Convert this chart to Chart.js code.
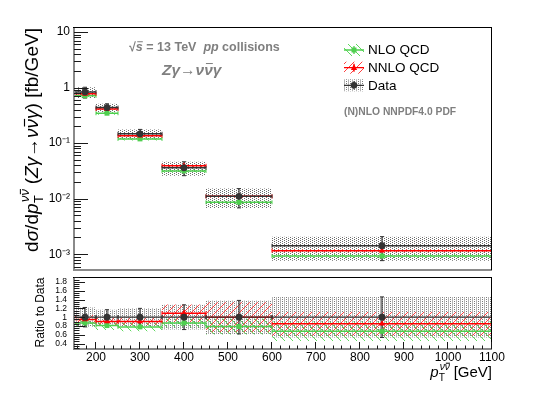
<!DOCTYPE html>
<html><head><meta charset="utf-8">
<script src="https://cdn.jsdelivr.net/npm/chart.js@4.4.1/dist/chart.umd.min.js"></script>
<style>
html,body{margin:0;padding:0;background:#fff;}
#wrap{position:relative;width:545px;height:393px;overflow:hidden;}
#c1{position:absolute;left:0;top:0;}
#c2{position:absolute;left:0;top:272px;}
</style></head><body>
<div id="wrap"><canvas id="c1" width="545" height="275"></canvas><canvas id="c2" width="545" height="121"></canvas></div>
<script>
// ---------------- data ----------------
const binEdges   = [150, 200, 250, 350, 450, 600, 1100];
const binCenters = [175, 225, 300, 400, 525, 850];
const dataXsec   = [0.83, 0.436, 0.147, 0.036, 0.0110, 0.00142];
const dataRelUnc = [0.22, 0.17, 0.20, 0.28, 0.38, 0.46];
const nloXsec    = [0.71, 0.345, 0.119, 0.0316, 0.0086, 0.00093];
const nnloXsec   = [0.77, 0.41, 0.136, 0.039, 0.0110, 0.00116];
const nloRelUnc  = [0.06, 0.06, 0.06, 0.07, 0.08, 0.08];
const nnloRelUnc = [0.04, 0.04, 0.04, 0.05, 0.06, 0.06];
const dataRatio  = [1, 1, 1, 1, 1, 1];
const nloRatio   = [0.87, 0.81, 0.78, 0.87, 0.79, 0.68];
const nnloRatio  = [0.95, 0.905, 0.905, 1.09, 1.00, 0.85];
const nloRatioBand  = [0.10, 0.10, 0.10, 0.10, 0.18, 0.22];
const nnloRatioBand = [0.10, 0.08, 0.08, 0.20, 0.34, 0.27];
const logTickValues  = [0.001, 0.01, 0.1, 1, 10];
const logTickLabels  = ['10\u207B\u00B3', '10\u207B\u00B2', '10\u207B\u00B9', '1', '10'];
const ratioTickValues = [0.4, 0.6, 0.8, 1.0, 1.2, 1.4, 1.6, 1.8];
const ratioTickLabels = ['0.4', '0.6', '0.8', '1', '1.2', '1.4', '1.6', '1.8'];
const xTickValues = [200, 300, 400, 500, 600, 700, 800, 900, 1000, 1100];
const xTickLabels = ['200', '300', '400', '500', '600', '700', '800', '900', '1000', '1100'];

// ---------------- styles ----------------
const FONT = '"Liberation Sans", Arial, Helvetica, sans-serif';
const C_DATA = '#333333', C_NLO = '#4fcf4f', C_NNLO = '#ff0000', C_GRAY = '#7f7f7f';
function mkPat(w, h, fn) { const c = document.createElement('canvas'); c.width = w; c.height = h; const g = c.getContext('2d'); fn(g); return g.createPattern(c, 'repeat'); }
const P_DOTS = mkPat(4, 2, g => { g.fillStyle = '#6a6a6a'; g.fillRect(0, 0, 1, 1); g.fillRect(2, 1, 1, 1); });
const P_VL = mkPat(4, 4, g => { g.fillStyle = '#b4b4b4'; g.fillRect(0, 0, 1, 4); g.fillStyle = '#7a7a7a'; g.fillRect(2, 1, 1, 1); g.fillRect(2, 3, 1, 1); });
const P_RED = mkPat(8, 8, g => { g.fillStyle = '#ff4040'; for (let i = 0; i < 8; i++) g.fillRect(i, 7 - i, 1, 1); });
const P_GREEN = mkPat(8, 8, g => { g.fillStyle = '#5fd85f'; for (let i = 0; i < 8; i++) g.fillRect(i, i, 1, 1); });

// ---------------- dataset helpers ----------------
function stepPts(vals) { const p = vals.map((v, i) => ({ x: binEdges[i], y: v })); p.push({ x: binEdges[binEdges.length - 1], y: vals[vals.length - 1] }); return p; }
function addBand(arr, upper, lower, bg, order) {
  arr.push({ data: stepPts(upper), stepped: true, fill: '+1', backgroundColor: bg, borderColor: 'rgba(0,0,0,0)', borderWidth: 0, pointRadius: 0, order });
  arr.push({ data: stepPts(lower), stepped: true, fill: false, borderColor: 'rgba(0,0,0,0)', borderWidth: 0, pointRadius: 0, order });
}
function addSegs(arr, vals, color, width, order) {
  const p = [];
  vals.forEach((v, i) => { p.push({ x: binEdges[i], y: v }, { x: binEdges[i + 1], y: v }, { x: binEdges[i + 1], y: null }); });
  arr.push({ data: p, borderColor: color, borderWidth: width, spanGaps: false, fill: false, pointStyle: 'line', rotation: 90, pointRadius: 2, pointBorderColor: color, pointBorderWidth: 1, order });
}
function addVErr(arr, lo, hi, color, order) {
  const p = [];
  binCenters.forEach((c, i) => { p.push({ x: c, y: lo[i] }, { x: c, y: hi[i] }, { x: c, y: null }); });
  arr.push({ data: p, borderColor: color, borderWidth: 1.2, spanGaps: false, fill: false, pointStyle: 'line', rotation: 0, pointRadius: 2, pointBorderColor: color, pointBorderWidth: 1, order });
}
function addMarkers(arr, vals, style, radius, color, order) {
  arr.push({ data: vals.map((v, i) => ({ x: binCenters[i], y: v })), showLine: false, pointStyle: style, pointRadius: radius, pointBackgroundColor: color, pointBorderColor: color, pointBorderWidth: 0, order });
}

// ---------------- rich text helpers ----------------
function fontStr(p, size) { return (p.it ? 'italic ' : '') + (p.b ? 'bold ' : '') + size + 'px ' + FONT; }
function measureParts(ctx, parts, size) { let w = 0; for (const p of parts) w += measurePart(ctx, p, size); return w; }
function measurePart(ctx, p, size) {
  if (p.sub || p.sup) { const s = size * 0.68; return Math.max(p.sub ? measureParts(ctx, p.sub, s) : 0, p.sup ? measureParts(ctx, p.sup, s) : 0) + size * 0.05; }
  ctx.font = fontStr(p, size); return ctx.measureText(p.t).width;
}
function drawParts(ctx, parts, x, y, size) {
  for (const p of parts) {
    if (p.sub || p.sup) {
      const s = size * 0.68;
      if (p.sub) drawParts(ctx, p.sub, x + size * 0.02, y + size * 0.27, s);
      if (p.sup) drawParts(ctx, p.sup, x + size * 0.08, y - size * 0.45, s);
      x += measurePart(ctx, p, size); continue;
    }
    ctx.font = fontStr(p, size);
    const w = ctx.measureText(p.t).width;
    ctx.fillText(p.t, x, y);
    if (p.over) ctx.fillRect(x + w * 0.2, y - size * 0.74, w * 0.8, Math.max(1, size * 0.06));
    x += w;
  }
  return x;
}
const NUNU = [{ t: '\u03BD', it: true }, { t: '\u03BD', it: true, over: true }];

// ---------------- decoration plugins ----------------
function drawFrame(ctx, a) {
  ctx.fillStyle = '#8a8a8a';
  ctx.fillRect(a.left - 1, a.top, 2, a.bottom - a.top + 1);
  ctx.fillRect(a.left - 1, a.bottom - 1, a.right - a.left + 1, 2);
  ctx.fillStyle = '#000';
  ctx.fillRect(a.left - 1, a.top, a.right - a.left + 1, 1);
  ctx.fillRect(a.right - 1, a.top, 1, a.bottom - a.top);
}
function legendRow(ctx, yc, pat, color, marker, label) {
  const x0 = 344, x1 = 364, xm = 354;
  ctx.fillStyle = pat; ctx.fillRect(x0, yc - 6, x1 - x0, 12);
  ctx.strokeStyle = color; ctx.lineWidth = 1.3;
  ctx.beginPath(); ctx.moveTo(x0, yc); ctx.lineTo(x1, yc); ctx.moveTo(xm, yc - 4); ctx.lineTo(xm, yc + 4); ctx.stroke();
  ctx.fillStyle = color;
  ctx.beginPath();
  if (marker === 'rect') ctx.rect(xm - 2.5, yc - 2.5, 5, 5);
  else if (marker === 'tri') { ctx.moveTo(xm, yc - 3.5); ctx.lineTo(xm + 3.2, yc + 2.3); ctx.lineTo(xm - 3.2, yc + 2.3); ctx.closePath(); }
  else ctx.arc(xm, yc, 3.3, 0, Math.PI * 2);
  ctx.fill();
  ctx.fillStyle = '#000'; ctx.font = '13.5px ' + FONT; ctx.textBaseline = 'middle'; ctx.textAlign = 'left';
  ctx.fillText(label, 368, yc + 0.5);
}
const deco1 = {
  id: 'deco1',
  afterDraw(chart) {
    const ctx = chart.ctx, a = chart.chartArea, ys = chart.scales.y;
    ctx.save();
    drawFrame(ctx, a);
    ctx.strokeStyle = '#1a1a1a'; ctx.lineWidth = 1;
    for (let e = -4; e <= 1; e++) for (let m = 1; m <= 9; m++) {
      const v = m * Math.pow(10, e);
      if (v < ys.min || v > ys.max) continue;
      const py = Math.round(ys.getPixelForValue(v)) + 0.5;
      const len = m === 1 ? 14 : 7;
      ctx.beginPath(); ctx.moveTo(a.left, py); ctx.lineTo(a.left + len, py); ctx.stroke();
    }
    const tparts = [{ t: 'd' }, { t: '\u03C3', it: true }, { t: '/d' }, { t: 'p', it: true },
      { sub: [{ t: 'T' }], sup: NUNU },
      { t: ' (' }, { t: 'Z\u03B3', it: true }, { t: '\u2192' }, ...NUNU, { t: '\u03B3', it: true }, { t: ') [fb/GeV]' }];
    let sz = 18; const w0 = measureParts(ctx, tparts, sz); sz = sz * 224 / w0;
    const w = measureParts(ctx, tparts, sz);
    ctx.save(); ctx.translate(38, 140); ctx.rotate(-Math.PI / 2);
    ctx.fillStyle = '#000'; ctx.textBaseline = 'alphabetic'; ctx.textAlign = 'left';
    drawParts(ctx, tparts, -w / 2, 0, sz);
    ctx.restore();
    ctx.fillStyle = C_GRAY; ctx.textBaseline = 'alphabetic'; ctx.textAlign = 'left';
    drawParts(ctx, [{ t: '\u221A', b: true }, { t: 's', b: true, it: true, over: true }, { t: ' = 13 TeV  ', b: true }, { t: 'pp', b: true, it: true }, { t: ' collisions', b: true }], 129, 50.5, 12.5);
    drawParts(ctx, [{ t: 'Z\u03B3', b: true, it: true }, { t: '\u2192', b: true }, { t: '\u03BD', b: true, it: true }, { t: '\u03BD', b: true, it: true, over: true }, { t: '\u03B3', b: true, it: true }], 162, 74.5, 15.5);
    ctx.font = 'bold 10.3px ' + FONT; ctx.fillStyle = C_GRAY;
    ctx.fillText('(N)NLO NNPDF4.0 PDF', 344, 114.5);
    legendRow(ctx, 50, P_GREEN, C_NLO, 'rect', 'NLO QCD');
    legendRow(ctx, 67.7, P_RED, C_NNLO, 'tri', 'NNLO QCD');
    legendRow(ctx, 85.3, P_VL, C_DATA, 'circle', 'Data');
    ctx.restore();
  }
};
const deco2 = {
  id: 'deco2',
  afterDraw(chart) {
    const ctx = chart.ctx, a = chart.chartArea, ys = chart.scales.y, xs = chart.scales.x;
    ctx.save();
    drawFrame(ctx, a);
    ctx.strokeStyle = '#1a1a1a'; ctx.lineWidth = 1;
    for (let k = 6; k <= 38; k++) {
      const v = k * 0.05;
      if (v < ys.min || v > ys.max) continue;
      const py = Math.round(ys.getPixelForValue(v)) + 0.5;
      const len = (k % 4 === 0) ? 11 : 5.5;
      ctx.beginPath(); ctx.moveTo(a.left, py); ctx.lineTo(a.left + len, py); ctx.stroke();
    }
    for (let v = 160; v <= 1100; v += 20) {
      const px = Math.round(xs.getPixelForValue(v)) - 0.5;
      const len = (v % 100 === 0) ? 7 : 3.5;
      ctx.beginPath(); ctx.moveTo(px, a.bottom); ctx.lineTo(px, a.bottom - len); ctx.stroke();
    }
    ctx.save(); ctx.translate(44, 312.5 - 272); ctx.rotate(-Math.PI / 2);
    ctx.fillStyle = '#000'; ctx.font = '12px ' + FONT; ctx.textAlign = 'center'; ctx.textBaseline = 'alphabetic';
    ctx.fillText('Ratio to Data', 0, 0);
    ctx.restore();
    const xp = [{ t: 'p', it: true }, { sub: [{ t: 'T' }], sup: NUNU }, { t: ' [GeV]' }];
    const xw = measureParts(ctx, xp, 15);
    ctx.fillStyle = '#000'; ctx.textAlign = 'left'; ctx.textBaseline = 'alphabetic';
    drawParts(ctx, xp, 492 - xw, 377 - 272, 15);
    ctx.restore();
  }
};
function fixY(s) { s.width = 74; s.paddingTop = 0; s.paddingBottom = 0; }
function fixX(h) { return s => { s.height = h; s.paddingLeft = 0; s.paddingRight = 0; }; }

// ---------------- top panel ----------------
const ds1 = [];
addBand(ds1, dataXsec.map((v, i) => v * (1 + dataRelUnc[i])), dataXsec.map((v, i) => v * (1 - dataRelUnc[i])), P_DOTS, 30);
addBand(ds1, nloXsec.map((v, i) => v * (1 + nloRelUnc[i])), nloXsec.map((v, i) => v * (1 - nloRelUnc[i])), P_GREEN, 25);
addBand(ds1, nnloXsec.map((v, i) => v * (1 + nnloRelUnc[i])), nnloXsec.map((v, i) => v * (1 - nnloRelUnc[i])), P_RED, 20);
addSegs(ds1, nloXsec, C_NLO, 1.5, 12);
addSegs(ds1, nnloXsec, C_NNLO, 1.5, 11);
addSegs(ds1, dataXsec, C_DATA, 1.5, 10);
addVErr(ds1, dataXsec.map((v, i) => v * (1 - dataRelUnc[i])), dataXsec.map((v, i) => v * (1 + dataRelUnc[i])), C_DATA, 9);
addMarkers(ds1, nloXsec, 'rect', 3.5, C_NLO, 3);
addMarkers(ds1, nnloXsec, 'triangle', 3.6, C_NNLO, 2);
addMarkers(ds1, dataXsec, 'circle', 3.4, C_DATA, 1);

new Chart(document.getElementById('c1'), {
  type: 'line',
  data: { datasets: ds1 },
  options: {
    responsive: false, animation: false, devicePixelRatio: 1,
    layout: { padding: { top: 27, right: 53, bottom: 2, left: 0 } },
    plugins: { legend: { display: false }, tooltip: { enabled: false } },
    scales: {
      x: {
        type: 'linear', min: 150, max: 1100,
        grid: { display: false, drawTicks: false }, border: { display: false },
        ticks: { display: false }, afterFit: fixX(0)
      },
      y: {
        type: 'logarithmic', min: 5.2e-4, max: 12.3,
        grid: { display: false, drawTicks: false }, border: { display: false },
        afterBuildTicks: s => { s.ticks = logTickValues.map(v => ({ value: v })); },
        afterFit: fixY,
        ticks: { autoSkip: false, padding: 4, color: '#000', font: { size: 12, family: FONT }, callback: (v, i) => logTickLabels[i] }
      }
    }
  },
  plugins: [deco1]
});

// ---------------- ratio panel ----------------
const ds2 = [];
addBand(ds2, dataRatio.map((v, i) => v + dataRelUnc[i]), dataRatio.map((v, i) => v - dataRelUnc[i]), P_VL, 30);
addBand(ds2, nloRatio.map((v, i) => v + nloRatioBand[i]), nloRatio.map((v, i) => v - nloRatioBand[i]), P_GREEN, 25);
addBand(ds2, nnloRatio.map((v, i) => v + nnloRatioBand[i]), nnloRatio.map((v, i) => v - nnloRatioBand[i]), P_RED, 20);
addSegs(ds2, nloRatio, C_NLO, 1.5, 12);
addSegs(ds2, nnloRatio, C_NNLO, 1.5, 11);
addSegs(ds2, dataRatio, C_DATA, 1.3, 10);
addVErr(ds2, dataRatio.map((v, i) => v - dataRelUnc[i]), dataRatio.map((v, i) => v + dataRelUnc[i]), C_DATA, 9);
addMarkers(ds2, nloRatio, 'rect', 3.5, C_NLO, 3);
addMarkers(ds2, nnloRatio, 'triangle', 3.6, C_NNLO, 2);
addMarkers(ds2, dataRatio, 'circle', 3.4, C_DATA, 1);

new Chart(document.getElementById('c2'), {
  type: 'line',
  data: { datasets: ds2 },
  options: {
    responsive: false, animation: false, devicePixelRatio: 1,
    layout: { padding: { top: 3, right: 53, bottom: 0, left: 0 } },
    plugins: { legend: { display: false }, tooltip: { enabled: false } },
    scales: {
      x: {
        type: 'linear', min: 150, max: 1100,
        grid: { display: false, drawTicks: false }, border: { display: false },
        afterBuildTicks: s => { s.ticks = xTickValues.map(v => ({ value: v })); },
        afterFit: fixX(44),
        ticks: { autoSkip: false, maxRotation: 0, padding: 1, color: '#000', font: { size: 12, family: FONT }, callback: (v, i) => xTickLabels[i] }
      },
      y: {
        type: 'linear', min: 0.28, max: 1.91,
        grid: { display: false, drawTicks: false }, border: { display: false },
        afterBuildTicks: s => { s.ticks = ratioTickValues.map(v => ({ value: v })); },
        afterFit: fixY,
        ticks: { autoSkip: false, padding: 7, color: '#000', font: { size: 8.5, family: FONT }, callback: (v, i) => ratioTickLabels[i] }
      }
    }
  },
  plugins: [deco2]
});
</script>
</body></html>
